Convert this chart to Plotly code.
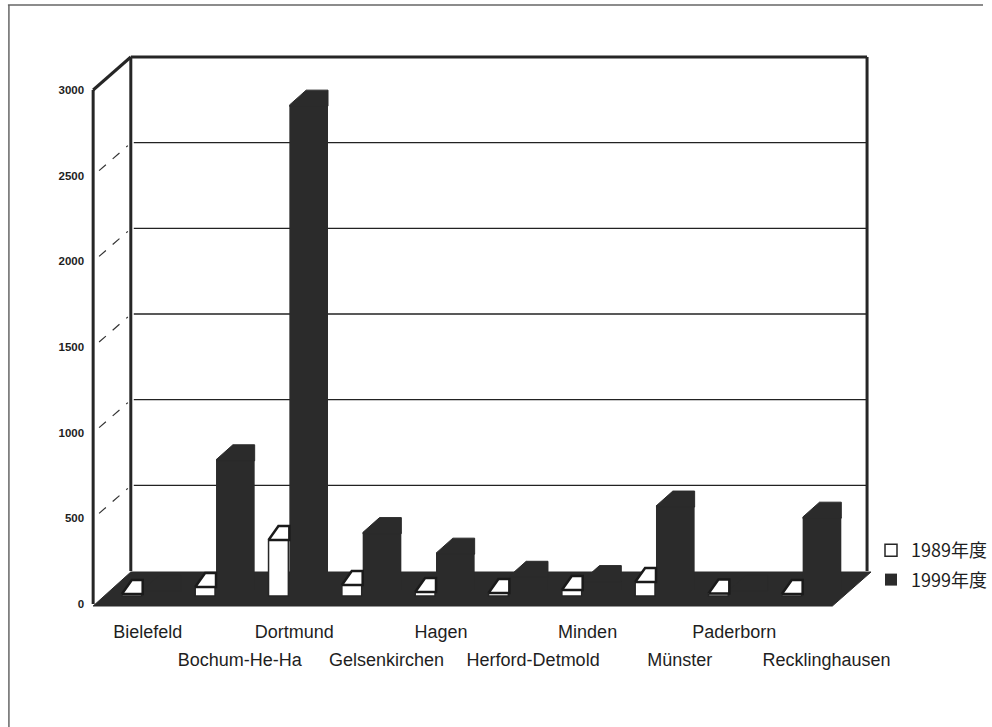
import plotly.graph_objects as go

# ---------------- data ----------------
categories = ["Bielefeld", "Bochum-He-Ha", "Dortmund", "Gelsenkirchen", "Hagen",
              "Herford-Detmold", "Minden", "Münster", "Paderborn", "Recklinghausen"]
values_1989 = [12, 53, 327, 64, 23, 18, 35, 82, 15, 12]
values_1999 = [0, 760, 2830, 335, 215, 80, 55, 490, 0, 425]
y_ticks = [0, 500, 1000, 1500, 2000, 2500, 3000]
series_names = ["1989年度", "1999年度"]

# ---------------- geometry (pixels) ----------------
W, H = 992, 727
CAT0, STEP = 144, 74          # pixel x of first category, spacing between categories
Y0, Y3000 = 604, 90           # pixel y of value 0 and 3000 on the front plane
k = (Y0 - Y3000) / 3000.0     # px per value unit


def xu(px):
    return px / STEP


def yu(px):
    return px / k


def xp(px):
    return px / W


def yp(py):
    return 1 - py / H


x_range = [(0 - CAT0) / STEP, (W - CAT0) / STEP]
y_range = [-(H - Y0) / k, Y0 / k]

WALL_DX, WALL_DY = 38, 33     # depth offset of back wall (px)
BASE_D = yu(14)               # dark bars stand a little behind the front edge
BASE_W = yu(8)                # white bars stand near the front edge
DARK = "#2b2b2b"
LINE = "#262626"

idx = list(range(len(categories)))

fig = go.Figure()

# 1999 bars (dark, front face + side drawn as one block)
fig.add_trace(go.Bar(
    x=idx, y=values_1999, base=BASE_D, width=xu(39), offset=0,
    marker=dict(color=DARK, line=dict(width=0)),
    name=series_names[1], legendrank=2, legendgroup="b",
))
# 1989 bars (white with outline)
fig.add_trace(go.Bar(
    x=idx, y=values_1989, base=BASE_W, width=xu(20), offset=-xu(21),
    marker=dict(color="white", line=dict(color=LINE, width=1.5)),
    name=series_names[0], legendrank=1, legendgroup="a",
))

# top faces of 1999 bars
cx, cy = [], []
for i, v in zip(idx, values_1999):
    t = BASE_D + v
    cx += [i, i + xu(17), i + xu(39), i + xu(39), i, None]
    cy += [t, t + yu(15), t + yu(15), t - yu(1), t - yu(1), None]
fig.add_trace(go.Scatter(x=cx, y=cy, mode="lines", fill="toself", fillcolor=DARK,
                         line=dict(width=1, color=DARK), showlegend=False, hoverinfo="skip"))

# top faces of 1989 bars
wx, wy = [], []
for i, v in zip(idx, values_1989):
    t = BASE_W + v
    x0 = i - xu(21)
    wx += [x0, x0 + xu(10), i, i, x0, None]
    wy += [t, t + yu(14), t + yu(14), t, t, None]
fig.add_trace(go.Scatter(x=wx, y=wy, mode="lines", fill="toself", fillcolor="white",
                         line=dict(width=2.5, color="#1a1a1a"), showlegend=False, hoverinfo="skip"))

# dummy trace to activate the second label row axis
fig.add_trace(go.Scatter(x=[None], y=[None], xaxis="x2", showlegend=False, hoverinfo="skip"))

shapes = []
# outer frame
shapes.append(dict(type="line", xref="paper", yref="paper", x0=xp(8), x1=1, y0=yp(5), y1=yp(5),
                   line=dict(color="#666", width=1.5), layer="below"))
shapes.append(dict(type="line", xref="paper", yref="paper", x0=xp(9), x1=xp(9), y0=yp(5), y1=0,
                   line=dict(color="#666", width=1.5), layer="below"))

FRONT_X, BACK_X, RIGHT_X = 94, 94 + WALL_DX, 875
wdy = yu(WALL_DY)
# floor
floor = (f"M {xp(FRONT_X)} {yp(606)} L {xp(840)} {yp(606)} L {xp(879)} {yp(572)} "
         f"L {xp(BACK_X)} {yp(572)} Z")
shapes.append(dict(type="path", xref="paper", yref="paper", path=floor,
                   fillcolor=DARK, line=dict(color=DARK, width=1), layer="below"))
# back wall gridlines and dashed depth lines
for v in y_ticks[1:-1]:
    shapes.append(dict(type="line", xref="paper", yref="y", x0=xp(BACK_X + 3), x1=xp(RIGHT_X),
                       y0=v + wdy, y1=v + wdy, line=dict(color="#222", width=1.3), layer="below"))
    shapes.append(dict(type="line", xref="paper", yref="y", x0=xp(FRONT_X + 6), x1=xp(BACK_X - 3),
                       y0=v + yu(5), y1=v + wdy - yu(3), line=dict(color="#333", width=1.2, dash="dash"),
                       layer="below"))
# back wall frame
for (xa, ya, xb, yb) in [(BACK_X, 0 + wdy, BACK_X, 3000 + wdy),
                         (BACK_X, 3000 + wdy, RIGHT_X, 3000 + wdy),
                         (RIGHT_X, 3000 + wdy, RIGHT_X, 0 + wdy),
                         (FRONT_X, 0, FRONT_X, 3000),
                         (FRONT_X, 3000, BACK_X, 3000 + wdy)]:
    shapes.append(dict(type="line", xref="paper", yref="y", x0=xp(xa), x1=xp(xb), y0=ya, y1=yb,
                       line=dict(color=LINE, width=3), layer="below"))

even = [i for i in idx if i % 2 == 0]
odd = [i for i in idx if i % 2 == 1]
label_font = dict(family="Arial, Liberation Sans, sans-serif", size=18, color="#1e1e1e")

fig.update_layout(
    width=W, height=H,
    margin=dict(l=0, r=0, t=0, b=0),
    paper_bgcolor="white", plot_bgcolor="rgba(0,0,0,0)",
    barmode="overlay",
    shapes=shapes,
    showlegend=True,
    legend=dict(x=xp(879), y=yp(532), xanchor="left", yanchor="top",
                traceorder="grouped", tracegroupgap=3, itemwidth=30,
                font=dict(family="Noto Sans CJK JP, sans-serif", size=18, color="#1e1e1e"),
                bgcolor="rgba(0,0,0,0)"),
    xaxis=dict(domain=[0, 1], range=x_range, anchor="free", position=yp(604),
               tickvals=[i + xu(5) for i in even], ticktext=[categories[i] for i in even],
               showgrid=False, zeroline=False, showline=False, ticks="",
               tickfont=label_font, ticklabelstandoff=15, fixedrange=True),
    xaxis2=dict(domain=[0, 1], range=x_range, overlaying="x", anchor="free", position=yp(632),
                tickvals=[i + xu(24) for i in odd], ticktext=[categories[i] for i in odd],
                showgrid=False, zeroline=False, showline=False, ticks="",
                tickfont=label_font, ticklabelstandoff=15, side="bottom"),
    yaxis=dict(domain=[0, 1], range=y_range, anchor="free", position=xp(FRONT_X),
               tickvals=y_ticks, ticktext=[str(t) for t in y_ticks],
               showgrid=False, zeroline=False, showline=False, ticks="",
               tickfont=dict(family="Arial, Liberation Sans, sans-serif", size=11.5, color="#1e1e1e",
                             weight="bold"),
               ticklabelstandoff=9),
)

fig.write_html("out.html")
